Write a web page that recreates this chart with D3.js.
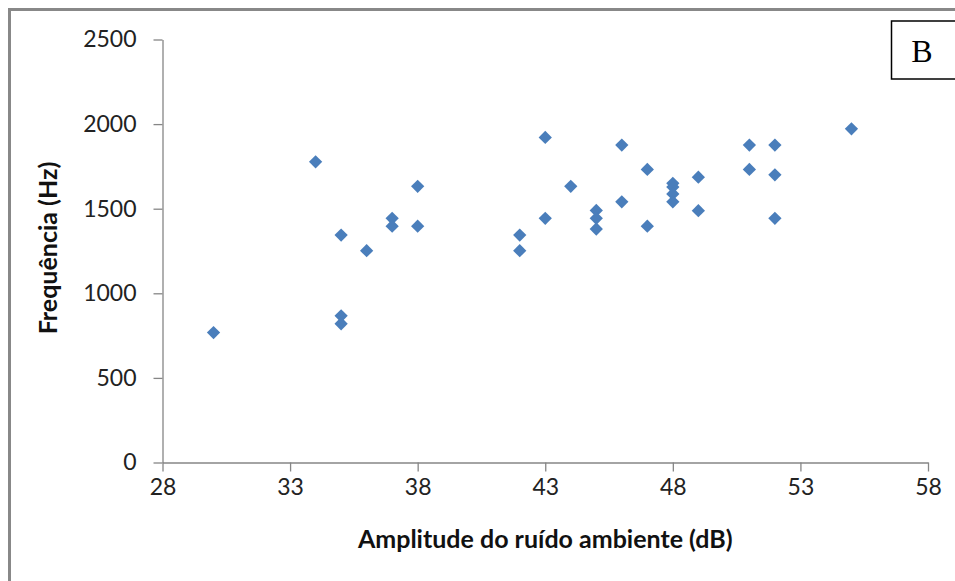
<!DOCTYPE html>
<html>
<head>
<meta charset="utf-8">
<script src="https://cdn.jsdelivr.net/npm/d3@7"></script>
<style>
  html, body { margin: 0; padding: 0; background: #fff; }
  svg { display: block; }
</style>
</head>
<body>
<svg id="chart" width="955" height="581"></svg>
<script>
// Ambient noise amplitude (dB) and song frequency (Hz) per recording
const noiseDb = [30, 34, 35, 35, 35, 36, 37, 37, 38, 38,
                 42, 42, 43, 43, 44, 45, 45, 45, 46, 46,
                 47, 47, 48, 48, 48, 48, 49, 49, 51, 51,
                 52, 52, 52, 55];
const frequencyHz = [768, 1777, 1344, 867, 820, 1252, 1443, 1397, 1632, 1397,
                     1344, 1252, 1921, 1443, 1632, 1490, 1443, 1380, 1876, 1541,
                     1732, 1397, 1650, 1628, 1587, 1541, 1686, 1488, 1876, 1732,
                     1876, 1700, 1443, 1972];

const xTicks = [28, 33, 38, 43, 48, 53, 58];
const yTicks = [0, 500, 1000, 1500, 2000, 2500];
const xTitle = "Amplitude do ruído ambiente (dB)";
const yTitle = "Frequência (Hz)";
const panelLetter = "B";

const svg = d3.select("#chart");
const axisColor = "#868686";
const markColor = "#4A7EBB";
const labelFont = "Lato, 'Open Sans', sans-serif";

const x = d3.scaleLinear().domain([28, 58]).range([162.5, 928]);
const y = d3.scaleLinear().domain([0, 2500]).range([462.5, 39.5]);

// outer frame (top and left edges)
svg.append("path")
  .attr("d", "M9.5,581 V9.5 H955")
  .attr("fill", "none")
  .attr("stroke", "#888")
  .attr("stroke-width", 3);

// axes
const xAxis = svg.append("g")
  .attr("transform", `translate(0,${y(0)})`)
  .call(d3.axisBottom(x).tickValues(xTicks).tickSize(9).tickSizeOuter(0).tickPadding(7)
        .tickFormat(d3.format("d")));
const yAxis = svg.append("g")
  .attr("transform", `translate(${x(28)},0)`)
  .call(d3.axisLeft(y).tickValues(yTicks).tickSize(9).tickSizeOuter(0).tickPadding(17)
        .tickFormat(d3.format("d")));

[xAxis, yAxis].forEach(g => {
  g.select(".domain").attr("stroke", axisColor).attr("stroke-width", 1.3);
  g.selectAll(".tick line").attr("stroke", axisColor).attr("stroke-width", 1.3);
  g.selectAll(".tick text")
    .attr("fill", "#222")
    .style("font-family", labelFont)
    .style("font-size", "23px");
});

// data markers: diamonds
svg.append("g")
  .selectAll("path")
  .data(noiseDb.map((v, i) => [v, frequencyHz[i]]))
  .join("path")
  .attr("d", d3.symbol(d3.symbolSquare, 88))
  .attr("transform", d => `translate(${x(d[0])},${y(d[1])}) rotate(45)`)
  .attr("fill", markColor);

// axis titles
svg.append("text")
  .attr("x", (x.range()[0] + x.range()[1]) / 2)
  .attr("y", 548)
  .attr("text-anchor", "middle")
  .style("font-family", labelFont)
  .style("font-weight", "bold")
  .style("font-size", "25px")
  .attr("fill", "#111")
  .text(xTitle);

svg.append("text")
  .attr("transform", "translate(57,248) rotate(-90)")
  .attr("text-anchor", "middle")
  .style("font-family", labelFont)
  .style("font-weight", "bold")
  .style("font-size", "25px")
  .attr("fill", "#111")
  .text(yTitle);

// panel letter box
svg.append("rect")
  .attr("x", 891.5).attr("y", 21)
  .attr("width", 80).attr("height", 58)
  .attr("fill", "#fff")
  .attr("stroke", "#000")
  .attr("stroke-width", 1.5);
svg.append("text")
  .attr("x", 922).attr("y", 62)
  .attr("text-anchor", "middle")
  .style("font-family", "'Liberation Serif', 'DejaVu Serif', serif")
  .style("font-size", "32px")
  .attr("fill", "#000")
  .text(panelLetter);
</script>
</body>
</html>
